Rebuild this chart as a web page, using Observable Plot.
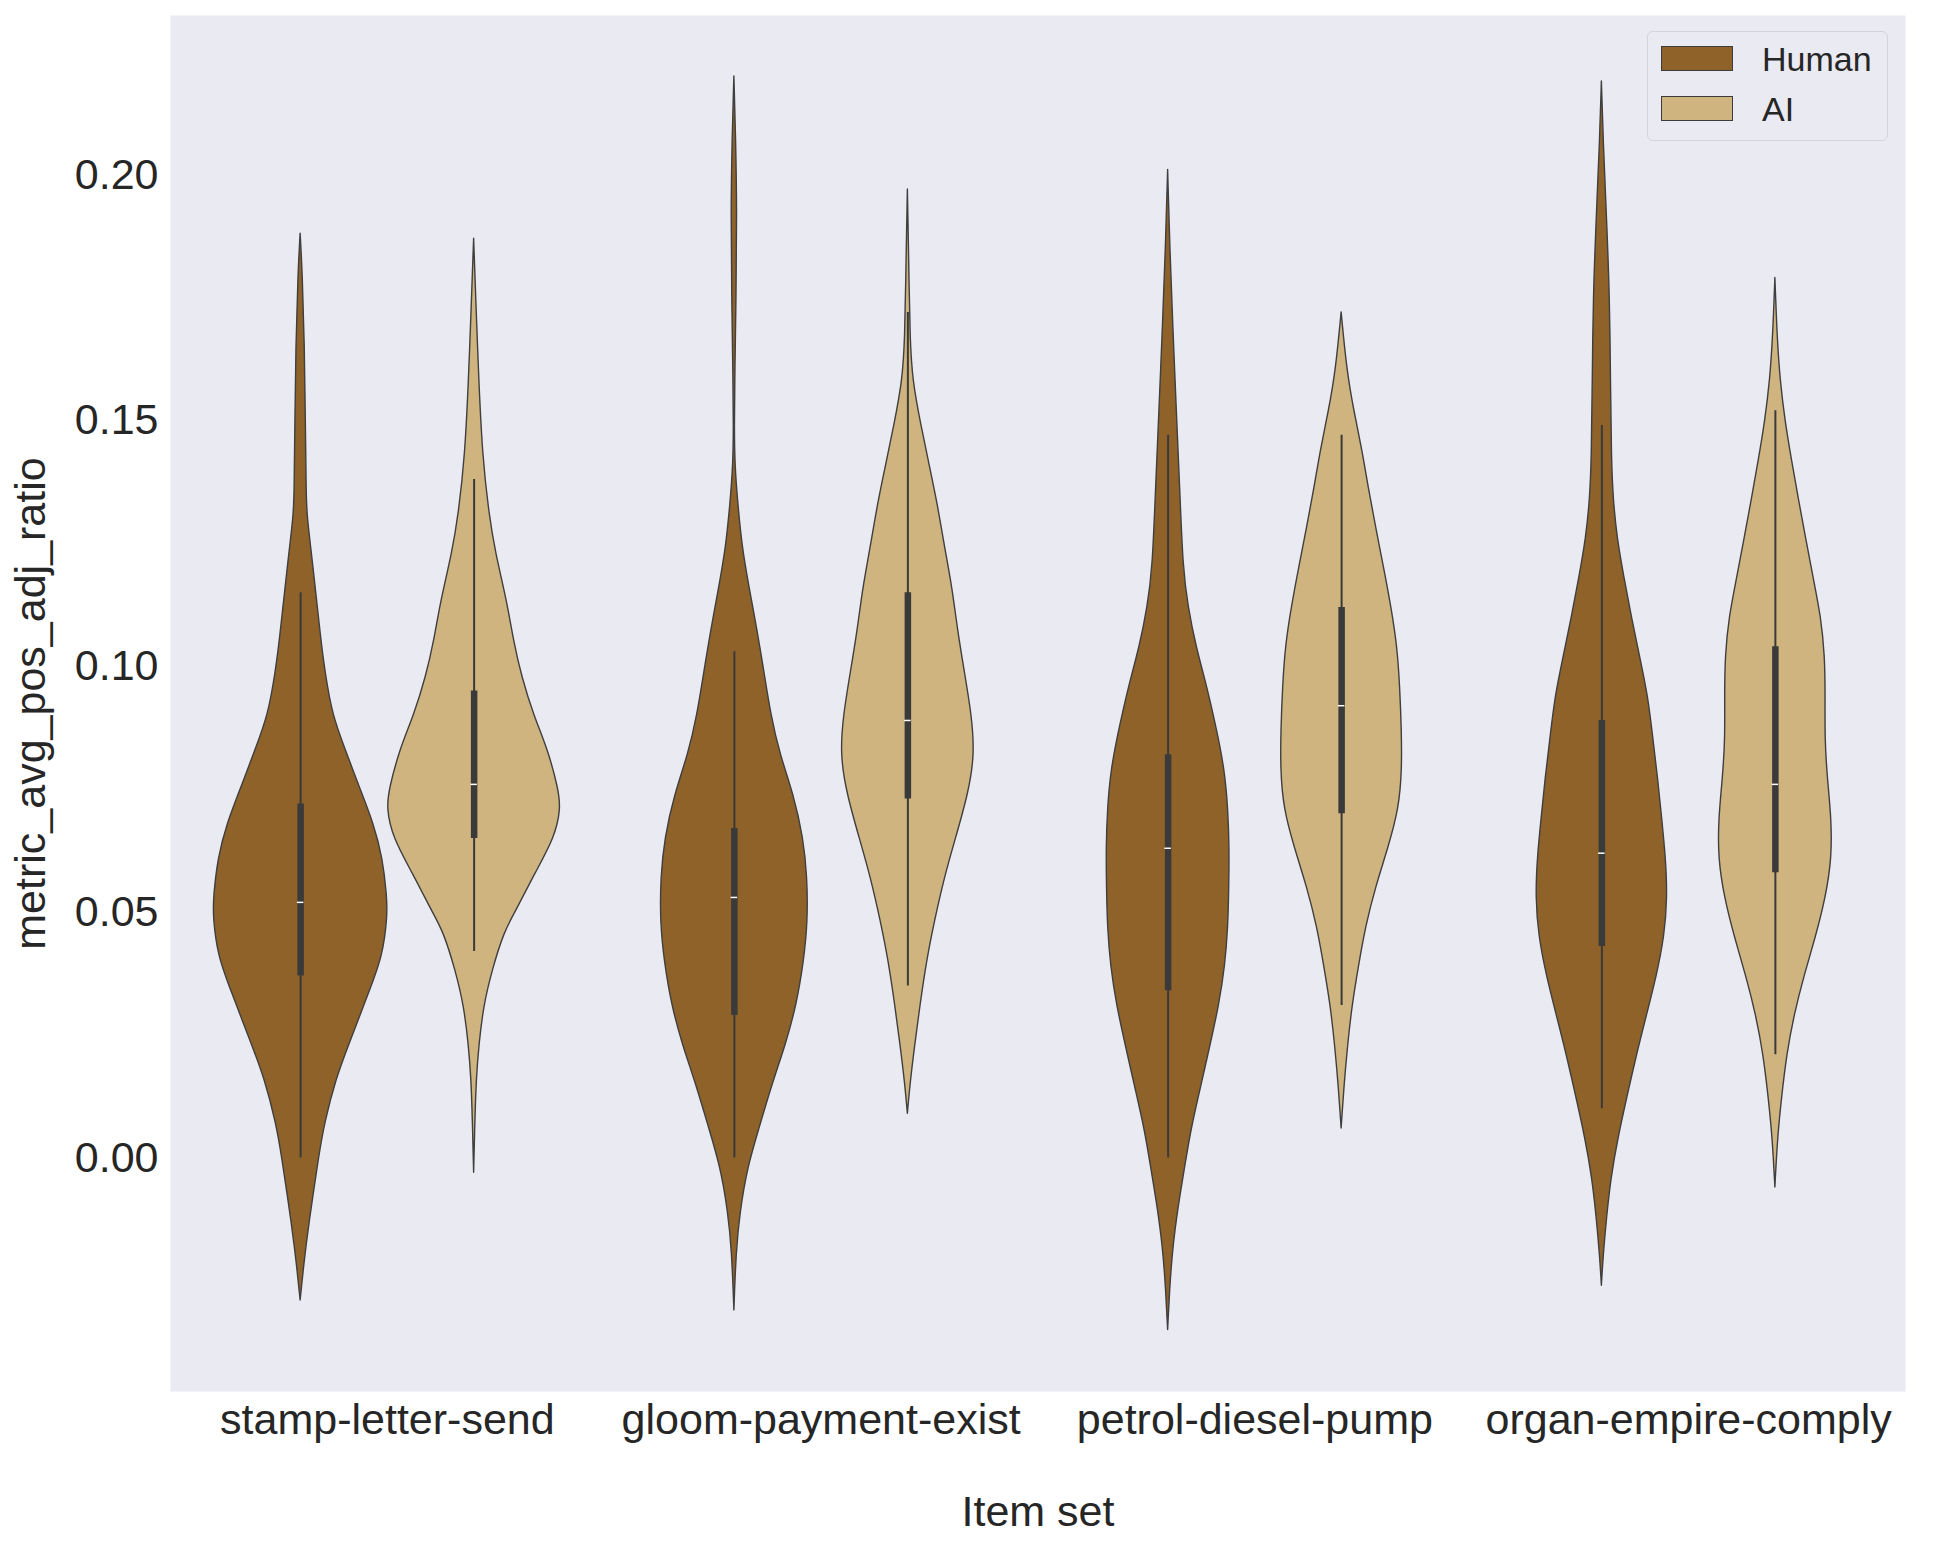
<!DOCTYPE html>
<html>
<head>
<meta charset="utf-8">
<script src="https://cdn.jsdelivr.net/npm/d3@7"></script>
<script src="https://cdn.jsdelivr.net/npm/@observablehq/plot@0.6"></script>
<style>
  html, body { margin: 0; padding: 0; background: #ffffff; }
  #wrap { position: relative; width: 1937px; height: 1550px; font-family: "Liberation Sans", Arial, sans-serif; }
  .legend { position: absolute; left: 1647px; top: 31px; width: 241px; height: 110px; box-sizing: border-box;
            border: 1.5px solid #d3d3d8; border-radius: 6px; background: #EAEAF2; }
  .sw { position: absolute; left: 1661px; width: 72px; height: 25px; box-sizing: border-box; border: 1.5px solid #3c3c3c; }
  .lt { position: absolute; left: 1762px; font-size: 34px; line-height: 34px; color: #262626; white-space: nowrap; }
</style>
</head>
<body>
<div id="wrap"></div>
<script>
// ---- data ----
const categories = ["stamp-letter-send", "gloom-payment-exist", "petrol-diesel-pump", "organ-empire-comply"];
const groups = ["Human", "AI"];
const groupColors = ["#8E6229", "#CFB47F"];
const yTicks = [0, 0.05, 0.10, 0.15, 0.20];

// violin outlines: [value, half-width in category units]
const stampHuman = [[0.188,0],[0.180,0.005],[0.165,0.010],[0.150,0.012],[0.135,0.014],[0.131,0.015],[0.120,0.030],[0.105,0.048],[0.099,0.057],[0.090,0.074],[0.083,0.104],[0.075,0.138],[0.068,0.169],[0.061,0.190],[0.053,0.200],[0.049,0.201],[0.041,0.190],[0.034,0.160],[0.023,0.112],[0.016,0.082],[0.007,0.056],[0.001,0.044],[-0.014,0.019],[-0.022,0.008],[-0.029,0]];
const stampAI = [[0.187,0],[0.172,0.006],[0.158,0.012],[0.143,0.020],[0.131,0.035],[0.123,0.050],[0.113,0.077],[0.105,0.092],[0.098,0.110],[0.090,0.138],[0.083,0.171],[0.075,0.195],[0.071,0.201],[0.065,0.186],[0.058,0.142],[0.050,0.096],[0.046,0.070],[0.038,0.042],[0.031,0.023],[0.023,0.012],[0.016,0.006],[0.008,0.003],[-0.003,0]];
const gloomHuman = [[0.220,0],[0.208,0.004],[0.192,0.007],[0.175,0.005],[0.158,0.002],[0.149,0.001],[0.141,0.002],[0.133,0.009],[0.124,0.019],[0.116,0.035],[0.107,0.054],[0.099,0.069],[0.090,0.085],[0.082,0.106],[0.074,0.137],[0.065,0.160],[0.057,0.169],[0.048,0.170],[0.040,0.161],[0.031,0.144],[0.023,0.119],[0.015,0.088],[0.006,0.058],[-0.002,0.031],[-0.011,0.014],[-0.019,0.005],[-0.031,0]];
const gloomAI = [[0.197,0],[0.183,0.003],[0.166,0.006],[0.158,0.012],[0.149,0.031],[0.141,0.050],[0.133,0.069],[0.124,0.086],[0.116,0.103],[0.107,0.116],[0.099,0.131],[0.090,0.148],[0.082,0.155],[0.074,0.140],[0.065,0.111],[0.057,0.085],[0.048,0.062],[0.040,0.044],[0.031,0.029],[0.023,0.017],[0.015,0.006],[0.009,0]];
const petrolHuman = [[0.201,0],[0.185,0.005],[0.169,0.012],[0.152,0.020],[0.136,0.028],[0.120,0.035],[0.112,0.047],[0.104,0.065],[0.096,0.090],[0.087,0.113],[0.079,0.131],[0.071,0.139],[0.063,0.142],[0.055,0.141],[0.047,0.139],[0.039,0.132],[0.031,0.118],[0.023,0.098],[0.014,0.075],[0.006,0.054],[-0.002,0.039],[-0.010,0.024],[-0.018,0.012],[-0.026,0.005],[-0.035,0]];
const petrolAI = [[0.172,0],[0.160,0.013],[0.152,0.029],[0.144,0.048],[0.136,0.063],[0.128,0.080],[0.120,0.098],[0.112,0.115],[0.104,0.129],[0.096,0.135],[0.087,0.139],[0.079,0.140],[0.071,0.133],[0.063,0.108],[0.055,0.079],[0.047,0.056],[0.039,0.040],[0.031,0.025],[0.023,0.015],[0.014,0.006],[0.006,0]];
const organHuman = [[0.219,0],[0.207,0.004],[0.191,0.012],[0.175,0.019],[0.158,0.021],[0.142,0.023],[0.134,0.027],[0.126,0.036],[0.118,0.052],[0.110,0.069],[0.102,0.088],[0.094,0.107],[0.085,0.119],[0.077,0.130],[0.069,0.139],[0.061,0.148],[0.053,0.152],[0.045,0.145],[0.037,0.127],[0.029,0.104],[0.021,0.081],[0.012,0.058],[0.004,0.038],[-0.004,0.022],[-0.012,0.012],[-0.020,0.004],[-0.026,0]];
const organAI = [[0.179,0],[0.167,0.005],[0.158,0.012],[0.150,0.023],[0.142,0.038],[0.134,0.054],[0.126,0.071],[0.118,0.088],[0.110,0.106],[0.102,0.115],[0.094,0.116],[0.085,0.115],[0.077,0.121],[0.069,0.130],[0.061,0.131],[0.053,0.117],[0.045,0.094],[0.037,0.067],[0.029,0.044],[0.021,0.027],[0.012,0.015],[0.004,0.006],[-0.006,0]];

// inner box stats: [lower whisker, q1, median, q3, upper whisker]
const stampHumanBox  = [0.000, 0.037, 0.052, 0.072, 0.115];
const stampAIBox     = [0.042, 0.065, 0.076, 0.095, 0.138];
const gloomHumanBox  = [0.000, 0.029, 0.053, 0.067, 0.103];
const gloomAIBox     = [0.035, 0.073, 0.089, 0.115, 0.172];
const petrolHumanBox = [0.000, 0.034, 0.063, 0.082, 0.147];
const petrolAIBox    = [0.031, 0.070, 0.092, 0.112, 0.147];
const organHumanBox  = [0.010, 0.043, 0.062, 0.089, 0.149];
const organAIBox     = [0.021, 0.058, 0.076, 0.104, 0.152];

// ---- tables built from the arrays ----
const violins = [
  [0, "Human", stampHuman, stampHumanBox], [0, "AI", stampAI, stampAIBox],
  [1, "Human", gloomHuman, gloomHumanBox], [1, "AI", gloomAI, gloomAIBox],
  [2, "Human", petrolHuman, petrolHumanBox], [2, "AI", petrolAI, petrolAIBox],
  [3, "Human", organHuman, organHumanBox], [3, "AI", organAI, organAIBox]
];
const dodge = 0.4; // total dodge spread (seaborn width 0.8 split in two)
const outline = [];
const boxes = [];
violins.forEach(([ci, g, prof, box], k) => {
  const cx = ci + (groups.indexOf(g) - 0.5) * dodge;
  [...prof].sort((a, b) => a[0] - b[0]).forEach(([v, hw]) => outline.push({id: k, group: g, cx, v, hw}));
  boxes.push({group: g, cx, lo: box[0], q1: box[1], med: box[2], q3: box[3], hi: box[4]});
});

const chart = Plot.plot({
  width: 1937,
  height: 1550,
  marginLeft: 170,
  marginRight: 32,
  marginTop: 15,
  marginBottom: 159,
  style: {fontFamily: "'Liberation Sans', Arial, sans-serif", fontSize: "43px", color: "#262626", background: "#ffffff", overflow: "visible"},
  x: {domain: [-0.5, 3.5], ticks: [0, 1, 2, 3], tickFormat: i => categories[i], tickSize: 0, tickPadding: 12, label: null},
  y: {domain: [-0.0475, 0.2324], ticks: yTicks, tickFormat: d3.format(".2f"), tickSize: 0, tickPadding: 12, label: null},
  color: {domain: groups, range: groupColors},
  marks: [
    Plot.frame({fill: "#EAEAF2", stroke: null}),
    Plot.areaX(outline, {
      y: "v", x1: d => d.cx - d.hw, x2: d => d.cx + d.hw, z: "id",
      fill: "group", stroke: "#3f3f3f", strokeWidth: 1.4, curve: "basis"
    }),
    Plot.ruleX(boxes, {x: "cx", y1: "lo", y2: "hi", stroke: "#3a3a3a", strokeWidth: 2}),
    Plot.ruleX(boxes, {x: "cx", y1: "q1", y2: "q3", stroke: "#3a3a3a", strokeWidth: 6.5}),
    Plot.ruleY(boxes, {y: "med", x1: d => d.cx - 0.0075, x2: d => d.cx + 0.0075, stroke: "#ffffff", strokeWidth: 1.5}),
    Plot.text(["Item set"], {frameAnchor: "bottom", dy: 121, textAnchor: "middle", lineAnchor: "middle", fontSize: 43, fill: "#262626"}),
    Plot.text(["metric_avg_pos_adj_ratio"], {frameAnchor: "left", dx: -139, rotate: -90, textAnchor: "middle", lineAnchor: "middle", fontSize: 43, fill: "#262626"}),
    Plot.axisX({ticks: [0, 1, 2, 3], tickFormat: i => categories[i], tickSize: 0, tickPadding: 12, label: null, fontSize: 43}),
    Plot.axisY({ticks: yTicks, tickFormat: d3.format(".2f"), tickSize: 0, tickPadding: 12, label: null, fontSize: 43})
  ]
});

const wrap = document.getElementById("wrap");
wrap.appendChild(chart);

// legend (drawn over the plot's upper-right corner, as in the reference)
const leg = document.createElement("div");
leg.className = "legend";
wrap.appendChild(leg);
const swTops = [46, 96];
const txtTops = [42, 92];
groups.forEach((g, i) => {
  const sw = document.createElement("div");
  sw.className = "sw";
  sw.style.top = swTops[i] + "px";
  sw.style.background = groupColors[i];
  wrap.appendChild(sw);
  const t = document.createElement("div");
  t.className = "lt";
  t.style.top = txtTops[i] + "px";
  t.textContent = g;
  wrap.appendChild(t);
});
</script>
</body>
</html>
